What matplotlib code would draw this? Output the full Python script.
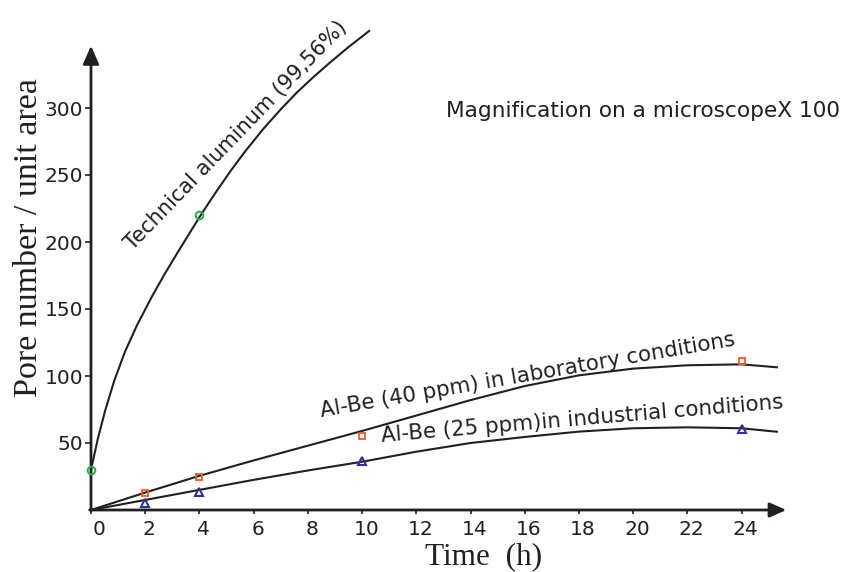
import matplotlib
matplotlib.use("Agg")
import matplotlib.pyplot as plt

# ---- data ----
tech_pts_x = [0, 4]
tech_pts_y = [30, 220]
lab_pts_x = [2, 4, 10, 24]
lab_pts_y = [12.5, 25, 55, 111]
ind_pts_x = [2, 4, 10, 24]
ind_pts_y = [5, 13.2, 36.3, 60.4]

tech_curve_x = [0, 0.25, 0.52, 0.85, 1.25, 1.7, 2.24, 2.7, 3.22, 4.0, 4.5, 5.13, 5.7, 6.36, 7.0, 7.59, 8.2, 8.82, 9.5, 10.26]
tech_curve_y = [30, 53, 74, 96, 118, 138, 159, 175.5, 193, 218.5, 234, 252.5, 268, 284.5, 299, 311.5, 323, 334, 345.5, 357.5]
lab_curve_x = [0, 2, 4, 6, 8, 10, 12, 14, 16, 18, 20, 22, 24, 25.3]
lab_curve_y = [0, 13, 25.5, 37, 48, 59, 70.5, 82, 92.5, 100.5, 105.5, 108, 108.7, 106.5]
ind_curve_x = [0, 2, 4, 6, 8, 10, 12, 14, 16, 18, 20, 22, 24, 25.3]
ind_curve_y = [0, 7.5, 15, 22.5, 29.5, 36, 43.5, 50, 54.5, 58.5, 61, 61.7, 61, 58.4]

x_ticks = [0, 2, 4, 6, 8, 10, 12, 14, 16, 18, 20, 22, 24]
y_ticks = [50, 100, 150, 200, 250, 300]

INK = "#231f20"

fig = plt.figure(figsize=(8.46, 5.72), dpi=100)
ax = fig.add_axes([91 / 846, 62 / 572, 694 / 846, 482.4 / 572])
ax.set_xlim(0, 25.6)
ax.set_ylim(0, 360)
for s in ax.spines.values():
    s.set_visible(False)

# axes with arrows
ax.annotate("", xy=(25.65, 0), xytext=(-0.05, 0),
            arrowprops=dict(arrowstyle="-|>,head_length=0.5,head_width=0.22",
                            lw=2.0, color=INK, mutation_scale=20,
                            shrinkA=0, shrinkB=0), annotation_clip=False)
ax.annotate("", xy=(0, 346.5), xytext=(0, -0.5),
            arrowprops=dict(arrowstyle="-|>,head_length=0.55,head_width=0.24",
                            lw=2.0, color=INK, mutation_scale=20,
                            shrinkA=0, shrinkB=0), annotation_clip=False)

# ticks
ax.set_xticks(x_ticks)
ax.set_xticklabels([])
ax.set_yticks(y_ticks)
ax.tick_params(axis="x", direction="out", length=3, width=1.2, color=INK)
ax.tick_params(axis="y", direction="out", length=4, width=1.2, color=INK,
               labelsize=14.5, pad=1.5, labelcolor=INK)
for xv in x_ticks:
    ax.annotate(str(xv), xy=(xv, 0), xytext=(6 if xv == 0 else 3, -7),
                textcoords="offset points", ha="center", va="top",
                fontsize=14.5, color=INK)

# curves
ax.plot(tech_curve_x, tech_curve_y, color=INK, lw=1.5, clip_on=False)
ax.plot(lab_curve_x, lab_curve_y, color=INK, lw=1.5, clip_on=False)
ax.plot(ind_curve_x, ind_curve_y, color=INK, lw=1.5, clip_on=False)

# markers
ax.plot(tech_pts_x, tech_pts_y, "o", ms=5.5, mfc="none", mec="#1db34a", mew=1.4,
        clip_on=False, zorder=5)
ax.plot(lab_pts_x, lab_pts_y, "s", ms=4.2, mfc="none", mec="#f05a28", mew=1.3,
        clip_on=False, zorder=5)
ax.plot(ind_pts_x, ind_pts_y, "^", ms=5.8, mfc="none", mec="#2e3192", mew=1.5,
        clip_on=False, zorder=5)

# in-plot labels
ax.text(5.5, 276.5, "Technical aluminum (99,56%)", rotation=46.0,
        rotation_mode="anchor", ha="center", va="baseline", fontsize=15, color=INK)
ax.text(16.16, 96.3, "Al-Be (40 ppm) in laboratory conditions", rotation=9.8,
        rotation_mode="anchor", ha="center", va="baseline", fontsize=15.4, color=INK)
ax.text(18.15, 63.4, "Al-Be (25 ppm)in industrial conditions", rotation=4.8,
        rotation_mode="anchor", ha="center", va="baseline", fontsize=15.4, color=INK)
fig.text(446 / 846, 1 - 116.7 / 572, "Magnification on a microscopeX 100",
         ha="left", va="baseline", fontsize=15.6, color=INK)

# axis titles
fig.text(483.5 / 846, 1 - 564 / 572, "Time  (h)", ha="center", va="baseline",
         fontsize=22.5, family="Liberation Serif", color=INK)
fig.text(37 / 846, 1 - 237.5 / 572, "Pore number / unit area", rotation=90,
         rotation_mode="anchor", ha="center", va="baseline",
         fontsize=24.5, family="Liberation Serif", color=INK)

fig.savefig("out.png", dpi=100)
